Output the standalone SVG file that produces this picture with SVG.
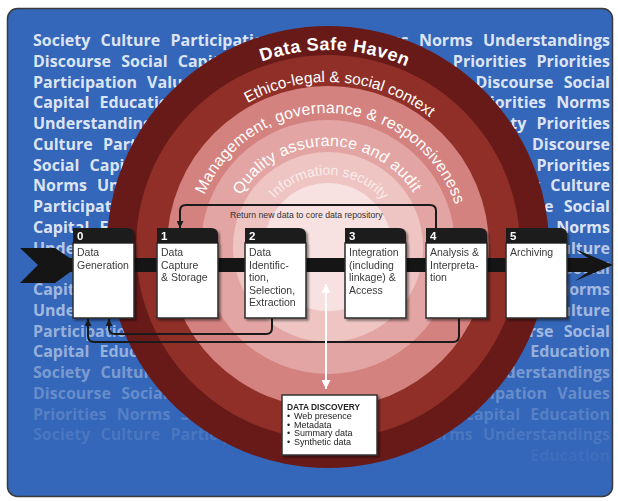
<svg xmlns="http://www.w3.org/2000/svg" width="618" height="501" viewBox="0 0 618 501">
<defs>
<style>
.bg{font-family:"Open Sans","DejaVu Sans",sans-serif;font-weight:700;font-size:16px;word-spacing:6px;fill:#edf2fb;fill-opacity:0.93}
.r{text-anchor:end}
.f1{fill-opacity:0.72}
.f2{fill-opacity:0.6}
.f3{fill-opacity:0.55}
.f4{fill-opacity:0.4}
.f5{fill-opacity:0.28}
.f6{fill-opacity:0.2}
.f7{fill-opacity:0.13}
.f8{fill-opacity:0.06}
.ring{font-family:"Liberation Sans",Arial,sans-serif;fill:#fff;text-anchor:middle}
.hdr{fill:#1c1c1c}
.body{fill:#fff;stroke:#2b2b2b;stroke-width:1.5}
.num{font-family:"Liberation Sans",Arial,sans-serif;font-weight:700;font-size:11.5px;fill:#fff}
.lbl{font-family:"Liberation Sans",Arial,sans-serif;font-size:10.5px;fill:#3a3a3a}
.conn{fill:none;stroke:#1a1a1a;stroke-width:2}
.dd{font-family:"Liberation Sans",Arial,sans-serif;font-size:9px;fill:#222}
</style>
<filter id="sh" x="-20%" y="-20%" width="140%" height="140%"><feDropShadow dx="2" dy="2" stdDeviation="1.2" flood-color="#000" flood-opacity="0.45"/></filter>
<marker id="ab" viewBox="0 0 10 10" refX="10" refY="5" markerWidth="7" markerHeight="7" orient="auto" markerUnits="userSpaceOnUse"><path d="M0,0 L10,5 L0,10 Z" fill="#1a1a1a"/></marker>
<marker id="aw" viewBox="0 0 10 10" refX="10" refY="5" markerWidth="9" markerHeight="9" orient="auto-start-reverse" markerUnits="userSpaceOnUse"><path d="M0,0 L10,5 L0,10 Z" fill="#fff"/></marker>
<path id="p1" d="M131,247 A197,197 0 0 1 525,247"/>
<path id="p2" d="M163,247 A165,165 0 0 1 493,247"/>
<path id="p3" d="M194,247 A134,134 0 0 1 462,247"/>
<path id="p4" d="M227,247 A101,101 0 0 1 429,247"/>
<path id="p5" d="M256,247 A72,72 0 0 1 400,247"/>
</defs>

<rect x="7.5" y="8.5" width="605" height="488" rx="10" fill="#3466b9" stroke="#3a3a3a" stroke-width="1.5"/>

<g id="background-words">
<text class="bg" x="33" y="46">Society Culture Participation</text>
<text class="bg" x="33" y="66.75">Discourse Social Capital</text>
<text class="bg" x="33" y="87.5">Participation Values</text>
<text class="bg" x="33" y="108.25">Capital Education</text>
<text class="bg" x="33" y="129">Understandings</text>
<text class="bg" x="33" y="149.75">Culture Participation</text>
<text class="bg" x="33" y="170.5">Social Capital</text>
<text class="bg" x="33" y="191.25">Norms Understandings</text>
<text class="bg" x="33" y="212">Participation</text>
<text class="bg" x="33" y="232.75">Capital Education</text>
<text class="bg f1" x="33" y="253.5">Unde</text>
<text class="bg f2" x="33" y="295">Capit</text>
<text class="bg f2" x="33" y="315.75">Unde</text>
<text class="bg f3" x="33" y="336.5">Participation</text>
<text class="bg f3" x="33" y="357.25">Capital Education</text>
<text class="bg f4" x="33" y="378">Society Culture</text>
<text class="bg f5" x="33" y="398.75">Discourse Social</text>
<text class="bg f6" x="33" y="419.5">Priorities Norms Society</text>
<text class="bg f7" x="33" y="440.25">Society Culture Participation</text>
<text class="bg r" x="610" y="46">Values Norms Understandings</text>
<text class="bg r" x="610" y="66.75">Values Priorities Priorities</text>
<text class="bg r" x="610" y="87.5">Discourse Social</text>
<text class="bg r" x="610" y="108.25">Priorities Norms</text>
<text class="bg r" x="610" y="129">Society Priorities</text>
<text class="bg r" x="610" y="149.75">Discourse</text>
<text class="bg r" x="610" y="170.5">Priorities</text>
<text class="bg r" x="610" y="191.25">Society Culture</text>
<text class="bg r" x="610" y="212">Discourse Social</text>
<text class="bg r" x="610" y="232.75">Norms</text>
<text class="bg r f1" x="610" y="253.5">Culture</text>
<text class="bg r f2" x="610" y="274.25">Social</text>
<text class="bg r f2" x="610" y="295">Norms</text>
<text class="bg r f2" x="610" y="315.75">Culture</text>
<text class="bg r f2" x="610" y="336.5">Discourse Social</text>
<text class="bg r f3" x="610" y="357.25">Education</text>
<text class="bg r f4" x="610" y="378">Understandings</text>
<text class="bg r f5" x="610" y="398.75">Participation Values</text>
<text class="bg r f6" x="610" y="419.5">Capital Education</text>
<text class="bg r f7" x="610" y="440.25">Norms Understandings</text>
<text class="bg r f8" x="610" y="461">Education</text>
</g>

<g id="data-safe-haven">
<circle cx="328" cy="247" r="221" fill="#681a19"/>
<circle cx="328" cy="247" r="192" fill="#8f2f28"/>
<circle cx="328" cy="247" r="161" fill="#d4827f"/>
<circle cx="328" cy="247" r="127" fill="#e3a5a3"/>
<circle cx="328" cy="247" r="95" fill="#eec5c3"/>
<circle cx="328" cy="247" r="64" fill="#f7e1e1"/>
<text class="ring" font-size="18" font-weight="700" letter-spacing="0.5"><textPath href="#p1" startOffset="316">Data Safe Haven</textPath></text>
<text class="ring" font-size="15.5"><textPath href="#p2" startOffset="272">Ethico-legal &amp; social context</textPath></text>
<text class="ring" font-size="16" letter-spacing="0.2"><textPath href="#p3" startOffset="215.6">Management, governance &amp; responsiveness</textPath></text>
<text class="ring" font-size="16" letter-spacing="0.3"><textPath href="#p4" startOffset="157">Quality assurance and audit</textPath></text>
<text class="ring" font-size="14" fill-opacity="0.7"><textPath href="#p5" startOffset="114">Information security</textPath></text>
</g>

<g id="main-flow">
<rect x="60" y="258" width="522" height="14" fill="#151515"/>
<polygon points="20,248 55,248 80,265 55,283 20,283 38,265" fill="#151515"/>
<polygon points="575,249 613,265 575,281 588,272 568,272 568,258 588,258" fill="#151515"/>
</g>

<g id="connectors">
<path class="conn" d="M436,228 V211 Q436,205 430,205 H186 Q180,205 180,211 V228" marker-end="url(#ab)"/>
<text x="230" y="218" font-family="Liberation Sans, Arial, sans-serif" font-size="8.7" fill="#333">Return new data to core data repository</text>
<path class="conn" d="M272,318 V328 Q272,334 266,334 H115 Q109,334 109,328 V319" marker-end="url(#ab)"/>
<path class="conn" d="M459,318 V336 Q459,342 453,342 H94 Q88,342 88,336 V319" marker-end="url(#ab)"/>
<path d="M326,284 V389" fill="none" stroke="#fff" stroke-width="2" marker-start="url(#aw)" marker-end="url(#aw)"/>
</g>

<g id="node-0" transform="translate(73,228)" filter="url(#sh)">
<rect class="body" x="0" y="15" width="61" height="75"/>
<path class="hdr" d="M0,15 V0 H54 Q61,0 61,7 V15 Z"/>
<text class="num" x="4" y="12">0</text>
<text class="lbl"><tspan x="4" y="28">Data</tspan><tspan x="4" y="40.5">Generation</tspan></text>
</g>
<g id="node-1" transform="translate(157,228)" filter="url(#sh)">
<rect class="body" x="0" y="15" width="61" height="75"/>
<path class="hdr" d="M0,15 V0 H54 Q61,0 61,7 V15 Z"/>
<text class="num" x="4" y="12">1</text>
<text class="lbl"><tspan x="4" y="28">Data</tspan><tspan x="4" y="40.5">Capture</tspan><tspan x="4" y="53">&amp; Storage</tspan></text>
</g>
<g id="node-2" transform="translate(245,228)" filter="url(#sh)">
<rect class="body" x="0" y="15" width="61" height="75"/>
<path class="hdr" d="M0,15 V0 H54 Q61,0 61,7 V15 Z"/>
<text class="num" x="4" y="12">2</text>
<text class="lbl"><tspan x="4" y="28">Data</tspan><tspan x="4" y="40.5">Identific-</tspan><tspan x="4" y="53">tion,</tspan><tspan x="4" y="65.5">Selection,</tspan><tspan x="4" y="78">Extraction</tspan></text>
</g>
<g id="node-3" transform="translate(345,228)" filter="url(#sh)">
<rect class="body" x="0" y="15" width="61" height="75"/>
<path class="hdr" d="M0,15 V0 H54 Q61,0 61,7 V15 Z"/>
<text class="num" x="4" y="12">3</text>
<text class="lbl"><tspan x="4" y="28">Integration</tspan><tspan x="4" y="40.5">(including</tspan><tspan x="4" y="53">linkage) &amp;</tspan><tspan x="4" y="65.5">Access</tspan></text>
</g>
<g id="node-4" transform="translate(426,228)" filter="url(#sh)">
<rect class="body" x="0" y="15" width="61" height="75"/>
<path class="hdr" d="M0,15 V0 H54 Q61,0 61,7 V15 Z"/>
<text class="num" x="4" y="12">4</text>
<text class="lbl"><tspan x="4" y="28">Analysis &amp;</tspan><tspan x="4" y="40.5">Interpreta-</tspan><tspan x="4" y="53">tion</tspan></text>
</g>
<g id="node-5" transform="translate(506,228)" filter="url(#sh)">
<rect class="body" x="0" y="15" width="61" height="75"/>
<path class="hdr" d="M0,15 V0 H54 Q61,0 61,7 V15 Z"/>
<text class="num" x="4" y="12">5</text>
<text class="lbl"><tspan x="4" y="28">Archiving</tspan></text>
</g>

<g id="data-discovery" filter="url(#sh)">
<rect x="282" y="395" width="95" height="60" fill="#fff" stroke="#333" stroke-width="1.5"/>
<text x="287" y="410" font-family="Liberation Sans, Arial, sans-serif" font-size="8.4" font-weight="700" fill="#222">DATA DISCOVERY</text>
<text class="dd"><tspan x="287" y="419">•</tspan><tspan x="294">Web presence</tspan></text>
<text class="dd"><tspan x="287" y="427.5">•</tspan><tspan x="294">Metadata</tspan></text>
<text class="dd"><tspan x="287" y="436">•</tspan><tspan x="294">Summary data</tspan></text>
<text class="dd"><tspan x="287" y="444.5">•</tspan><tspan x="294">Synthetic data</tspan></text>
</g>
</svg>
